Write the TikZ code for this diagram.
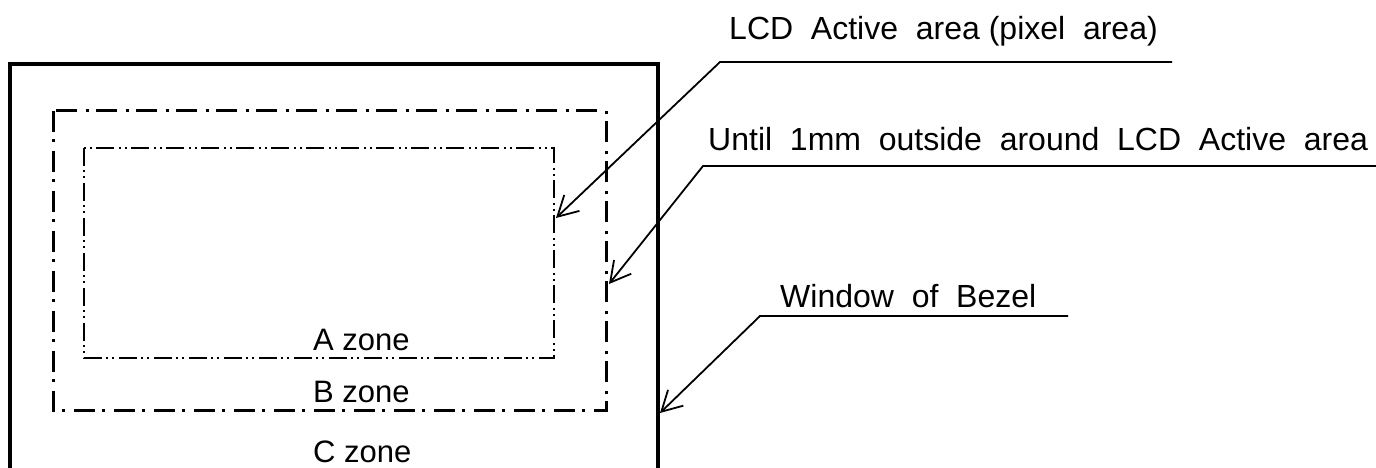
\documentclass[tikz,border=0pt]{standalone}
\usepackage{fontspec}
\setmainfont{Liberation Sans}
\usetikzlibrary{arrows.meta, positioning}

\tikzset{
  callout/.style={anchor=base west, inner sep=0pt, font=\fontsize{32}{38}\selectfont},
  zonetext/.style={anchor=base west, inner sep=0pt, font=\fontsize{31}{37}\selectfont},
  leader/.style={line width=1.8pt, -{Straight Barb[length=20pt, width=22pt, line width=1.8pt]}},
  bezel/.style={line width=4pt},
  bzone/.style={line width=3pt, dash pattern=on 21pt off 7pt on 3pt off 9pt},
  azone/.style={line width=2pt, dash pattern=on 18pt off 4pt on 2pt off 4pt on 2pt off 5pt}
}

\begin{document}
\begin{tikzpicture}[x=1pt, y=-1pt]
    \useasboundingbox (0, 0) rectangle (1376, 468);
    % window of bezel and the two zone borders
    \draw[bezel] (10, 472) -- (10, 64) -- (658, 64) -- (658, 472);
    \draw[bzone] (53, 111) rectangle (606, 410);
    \draw[azone] (84, 148) rectangle (554, 358);
    \node[zonetext] (azone) at (313, 350) {A zone};
    \node[zonetext] (bzone) at (313, 402) {B zone};
    \node[zonetext] (czone) at (313, 462) {C zone};
    % callouts
    \node[callout] (lcd) at (729, 40) {LCD\ \ Active\ \ area (pixel\ \ area)};
    \node[callout] (until) at (708, 150) {Until\ \ 1mm\ \ outside\ \ around\ \ LCD\ \ Active\ \ area};
    \node[callout] (window) at (780, 307) {Window\ \ of\ \ Bezel};
    \coordinate (lcd end) at (1172, 62);
    \coordinate (lcd knee) at (720, 62);
    \coordinate (lcd tip) at (556, 218);
    \coordinate (until end) at (1376, 166);
    \coordinate (until knee) at (703, 166);
    \coordinate (until tip) at (609, 284);
    \coordinate (window end) at (1068, 316);
    \coordinate (window knee) at (760, 316);
    \coordinate (window tip) at (660, 413);
    \draw[leader] (lcd end) -- (lcd knee) -- (lcd tip);
    \draw[leader] (until end) -- (until knee) -- (until tip);
    \draw[leader] (window end) -- (window knee) -- (window tip);
\end{tikzpicture}
\end{document}
